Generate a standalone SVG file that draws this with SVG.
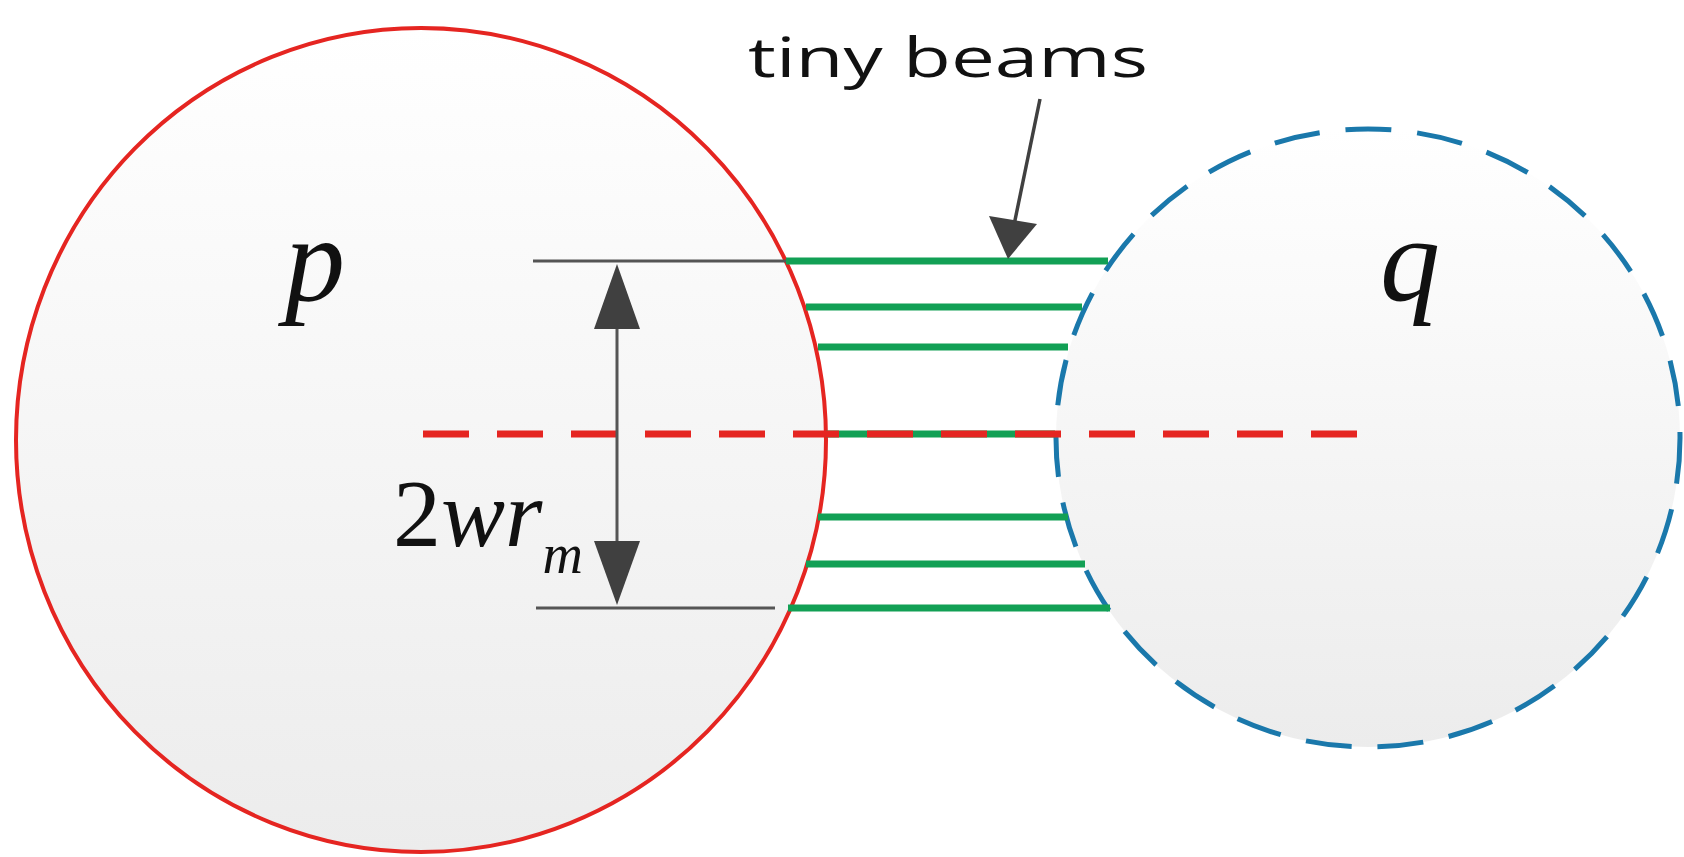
<svg xmlns="http://www.w3.org/2000/svg" width="1684" height="857" viewBox="0 0 1684 857">
<defs>
<linearGradient id="g" x1="0" y1="0" x2="0" y2="1"><stop offset="0" stop-color="#ffffff"/><stop offset="1" stop-color="#ececec"/></linearGradient>
</defs>
<style>
.beam{stroke:#12a055;stroke-width:7;fill:none}
.gray{stroke:#555;stroke-width:3;fill:none}
.it{font-family:"Liberation Serif",serif;font-style:italic;fill:#111}
</style>
<rect width="1684" height="857" fill="#fff"/>
<g id="q"><ellipse cx="1368" cy="438" rx="312" ry="309" fill="url(#g)" stroke="#1a78ab" stroke-width="5" stroke-dasharray="46,26"/></g>
<g id="p"><ellipse cx="421" cy="440" rx="405" ry="412" fill="url(#g)" stroke="#e52521" stroke-width="4"/></g>
<g id="connectors">
<line class="beam" x1="786" y1="261" x2="1108" y2="261"/>
<line class="beam" x1="806" y1="307" x2="1082" y2="307"/>
<line class="beam" x1="818" y1="347" x2="1068" y2="347"/>
<line class="beam" x1="826" y1="434" x2="1055" y2="434"/>
<line class="beam" x1="818" y1="517" x2="1068" y2="517"/>
<line class="beam" x1="806" y1="564" x2="1085" y2="564"/>
<line class="beam" x1="788" y1="608" x2="1110" y2="608"/>
<line x1="423" y1="434" x2="1376" y2="434" stroke="#e52521" stroke-width="7" stroke-dasharray="46,28"/>
<line class="gray" x1="533" y1="261" x2="786" y2="261"/>
<line class="gray" x1="536" y1="608" x2="775" y2="608"/>
<line class="gray" x1="617" y1="320" x2="617" y2="550"/>
<path d="M617,264 L594,329 L640,329z" fill="#404040"/>
<path d="M617,605 L594,541 L640,541z" fill="#404040"/>
<line x1="1040" y1="99" x2="1014" y2="225" stroke="#404040" stroke-width="3.5"/>
<path d="M1008,259 L989,216 L1037,224z" fill="#404040"/>
</g>
<text x="748" y="77" font-family="Open Sans,sans-serif" font-size="54" textLength="400" lengthAdjust="spacingAndGlyphs" fill="#111">tiny beams</text>
<text class="it" x="285" y="300" font-size="120">p</text>
<text class="it" x="1380" y="300" font-size="120">q</text>
<text class="it" x="393" y="546" font-size="96"><tspan font-style="normal">2</tspan>wr<tspan font-size="56" dy="27">m</tspan></text>
</svg>
